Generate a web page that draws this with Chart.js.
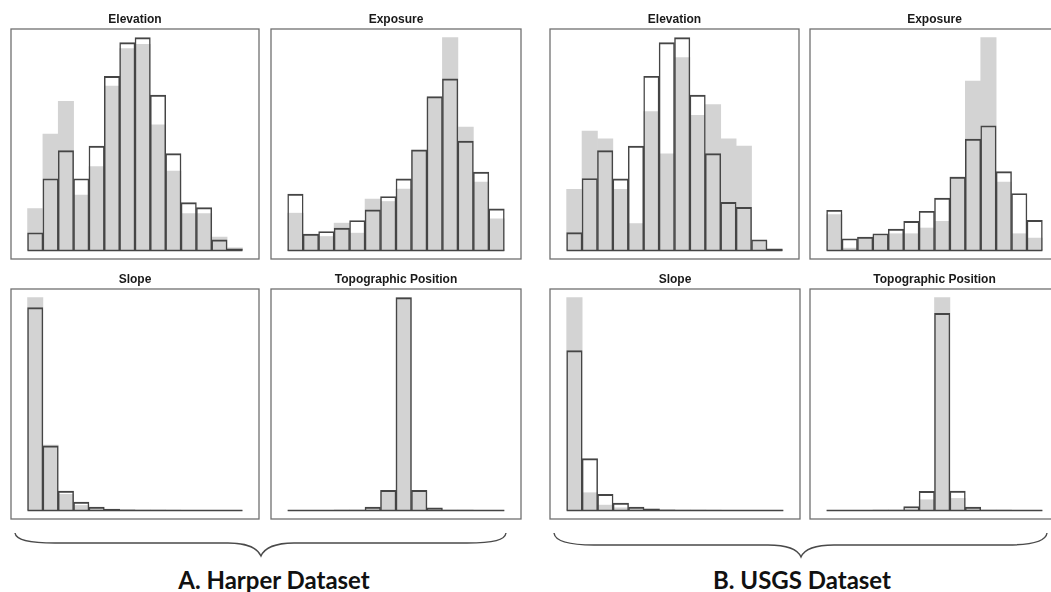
<!DOCTYPE html>
<html><head><meta charset="utf-8">
<script src="https://cdn.jsdelivr.net/npm/chart.js@4.4.0/dist/chart.umd.min.js"></script>
<style>
html,body{margin:0;padding:0;background:#fff;width:1051px;height:592px;overflow:hidden;position:relative;}
canvas{position:absolute;}
.lbl{position:absolute;font-family:Lato,'Open Sans',sans-serif;font-weight:bold;font-size:24px;line-height:24px;color:#111;white-space:nowrap;transform:translateX(-50%);}
svg{position:absolute;left:0;top:0;}
</style></head><body>
<svg width="1051" height="592">
  <path d="M15,533 C16,540 28,543 55,543 L228,543 C248,543 258,549 261,556 C264,549 274,543 294,543 L467,543 C494,543 505,540 506,533" fill="none" stroke="#4a4a4a" stroke-width="1.4"/>
  <path d="M554,533 C555,541 567,545 594,545 L768,545 C788,545 798,550 801,557 C804,550 814,545 834,545 L1007,545 C1034,545 1046,541 1047,533" fill="none" stroke="#4a4a4a" stroke-width="1.4"/>
</svg>
<div class="lbl" style="left:274px;top:568px">A. Harper Dataset</div>
<div class="lbl" style="left:802px;top:568px">B. USGS Dataset</div>
<script>
// Bin centres (14 histogram bins per panel)
const binCenters = [0.5,1.5,2.5,3.5,4.5,5.5,6.5,7.5,8.5,9.5,10.5,11.5,12.5,13.5];
const panelTitles = ['Elevation','Exposure','Slope','Topographic Position'];

// A. Harper dataset: outlined histogram (fg) and grey histogram (bg)
const harperElevOutline = [53,214,298,214,311,519,620,635,463,289,143,128,32,5];
const harperElevFill    = [125,347,445,165,250,490,602,615,375,237,110,110,40,8];
const harperExpoOutline = [169,49,57,67,90,122,162,215,302,462,515,328,235,125];
const harperExpoFill    = [112,47,42,82,52,154,147,184,300,458,639,370,205,95];
const harperSlopeOutline= [605,193,58,25,10,4,2,1,1,1,0,0,0,0];
const harperSlopeFill   = [635,195,48,15,5,3,1,1,1,0,0,0,0,0];
const harperTopoOutline = [0,0,0,1,1,10,60,633,60,8,1,1,0,0];
const harperTopoFill    = [0,0,0,1,1,8,58,633,58,5,1,1,0,0];

// B. USGS dataset
const usgsElevOutline = [53,214,297,213,310,518,618,633,462,288,143,128,32,5];
const usgsElevFill    = [182,355,332,182,80,413,287,573,402,434,332,310,28,2];
const usgsExpoOutline = [120,35,40,50,64,87,117,156,219,332,372,235,170,90];
const usgsExpoFill    = [107,7,37,44,50,50,67,87,219,505,635,204,50,37];
const usgsSlopeOutline= [477,155,48,22,10,5,2,1,1,1,0,0,0,0];
const usgsSlopeFill   = [635,53,16,8,5,4,1,1,1,0,0,0,0,0];
const usgsTopoOutline = [0,0,0,1,1,12,57,588,58,10,1,1,0,0];
const usgsTopoFill    = [0,0,0,1,1,8,32,635,36,7,1,1,0,0];

// Layout (plot frame boxes in page pixels)
const layoutBoxes = {
  aElev:[11,29,259,259], aExpo:[271,29,521,259], bElev:[550,29,799,259], bExpo:[810,29,1059,259],
  aSlope:[11,289,259,519], aTopo:[271,289,521,519], bSlope:[550,289,800,519], bTopo:[810,289,1059,519]
};

const panels = [
  {title:panelTitles[0], fg:harperElevOutline, bg:harperElevFill, box:layoutBoxes.aElev},
  {title:panelTitles[1], fg:harperExpoOutline, bg:harperExpoFill, box:layoutBoxes.aExpo},
  {title:panelTitles[0], fg:usgsElevOutline, bg:usgsElevFill, box:layoutBoxes.bElev},
  {title:panelTitles[1], fg:usgsExpoOutline, bg:usgsExpoFill, box:layoutBoxes.bExpo},
  {title:panelTitles[2], fg:harperSlopeOutline, bg:harperSlopeFill, box:layoutBoxes.aSlope},
  {title:panelTitles[3], fg:harperTopoOutline, bg:harperTopoFill, box:layoutBoxes.aTopo},
  {title:panelTitles[2], fg:usgsSlopeOutline, bg:usgsSlopeFill, box:layoutBoxes.bSlope},
  {title:panelTitles[3], fg:usgsTopoOutline, bg:usgsTopoFill, box:layoutBoxes.bTopo}
];

const OUT = '#454545';
const GREY = '#d3d3d3';
const framePlugin = {
  id:'frame',
  afterDraw(chart){
    const {ctx, chartArea:a} = chart;
    ctx.save();
    ctx.strokeStyle = '#707070';
    ctx.lineWidth = 1.3;
    ctx.strokeRect(a.left, a.top, a.right - a.left, a.bottom - a.top);
    ctx.restore();
  }
};

function makePanel(p){
  const [x0,y0,x1,y1] = p.box;
  const PAD = 2, TITLE_H = 21;
  const c = document.createElement('canvas');
  c.width = x1 - x0 + 2*PAD;
  c.height = y1 - y0 + TITLE_H + PAD;
  c.style.left = (x0 - PAD) + 'px';
  c.style.top = (y0 - TITLE_H) + 'px';
  document.body.appendChild(c);
  const n = p.fg.length;
  const M = Math.max(...p.fg, ...p.bg);
  const barCommon = {grouped:false, barPercentage:1, categoryPercentage:1};
  new Chart(c, {
    type:'bar',
    data:{datasets:[
      {type:'line', data:[{x:0,y:0},{x:n,y:0}], borderColor:OUT, borderWidth:1.3, pointRadius:0, fill:false, order:1},
      Object.assign({data:p.fg.map((v,i)=>({x:binCenters[i], y:v})), backgroundColor:'rgba(0,0,0,0)', borderColor:OUT,
        borderWidth:{top:1.3,bottom:0,left:0.85,right:0.85}, borderSkipped:false, order:2}, barCommon),
      Object.assign({data:p.bg.map((v,i)=>({x:binCenters[i], y:v})), backgroundColor:GREY, borderWidth:0, order:3}, barCommon)
    ]},
    options:{
      responsive:false, animation:false, devicePixelRatio:1,
      layout:{padding:{left:PAD,right:PAD,top:0,bottom:PAD}},
      plugins:{
        legend:{display:false}, tooltip:{enabled:false},
        title:{display:true, text:p.title, color:'#1a1a1a',
          font:{family:"'Liberation Sans', Arial, sans-serif", size:12, weight:'bold', lineHeight:1.2},
          padding:{top:4.6,bottom:2}}
      },
      scales:{
        x:{type:'linear', display:false, min:-0.54, max:n+0.54, ticks:{stepSize:1, includeBounds:false}},
        y:{type:'linear', display:false, min:-0.04*M, max:1.04*M}
      }
    },
    plugins:[framePlugin]
  });
}
panels.forEach(makePanel);
</script>
</body></html>
